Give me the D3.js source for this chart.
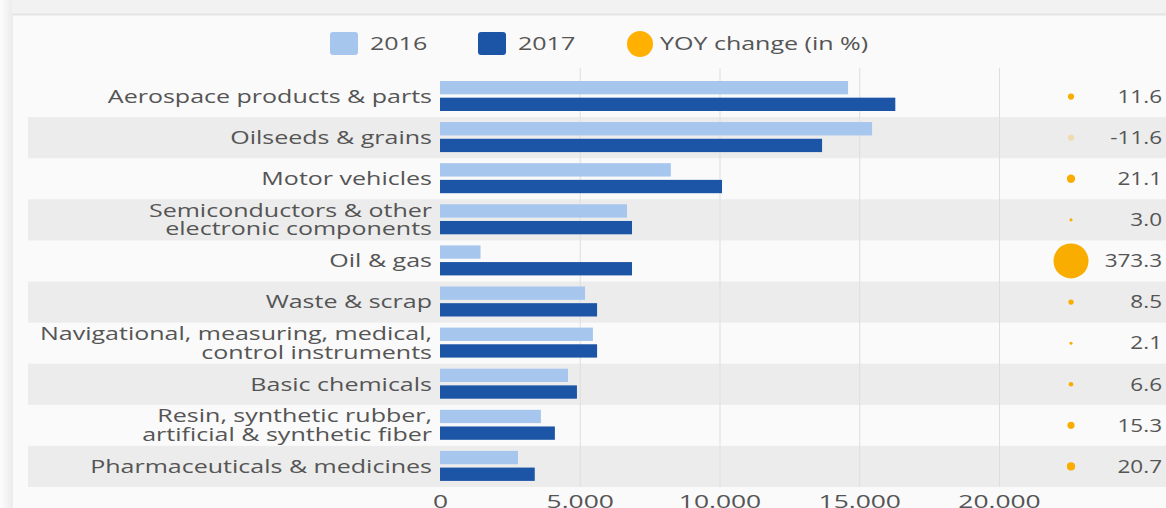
<!DOCTYPE html>
<html>
<head>
<meta charset="utf-8">
<script src="https://cdn.jsdelivr.net/npm/d3@7"></script>
<style>
  html, body { margin: 0; padding: 0; background: #f1f1f1; overflow: hidden; }
  text { font-family: "Open Sans", "Noto Sans", sans-serif; }
</style>
</head>
<body>
<script>
/* data (US$ million) */
var categories = [
    'Aerospace products & parts',
    'Oilseeds & grains',
    'Motor vehicles',
    'Semiconductors & other|electronic components',
    'Oil & gas',
    'Waste & scrap',
    'Navigational, measuring, medical,|control instruments',
    'Basic chemicals',
    'Resin, synthetic rubber,|artificial & synthetic fiber',
    'Pharmaceuticals & medicines'
]
var years = ['2016', '2017']
var values2016 = [14600, 15460, 8260, 6690, 1450, 5190, 5470, 4580, 3610, 2790]
var values2017 = [16290, 13670, 10090, 6870, 6870, 5620, 5620, 4900, 4110, 3390]
var yoyChange = [11.6, -11.6, 21.1, 3.0, 373.3, 8.5, 2.1, 6.6, 15.3, 20.7]
var xTicks = [0, 5000, 10000, 15000, 20000]

/* setup */
var width = 1166
var height = 508
var colors = { '2016': '#a6c6ee', '2017': '#1d55a6' }
var orange = '#f8ad00'
var textColor = '#555'
var fontSize = '18px'
// the reference text runs wide
var stretch = 'scale(1.39,1)'
var stretchNum = 'scale(1.25,1)'

var rows = categories.map(function(c, i) {
    return { name: c, '2016': values2016[i], '2017': values2017[i], yoy: yoyChange[i] }
})

var svg = d3.select('body').append('svg')
    .attr('width', width)
    .attr('height', height)

/* card */
var defs = svg.append('defs')
var grad = defs.append('linearGradient').attr('id', 'edge')
grad.append('stop').attr('offset', '0%').attr('stop-color', '#fdfdfd')
grad.append('stop').attr('offset', '100%').attr('stop-color', '#ececec')

svg.append('rect').attr('width', width).attr('height', height).attr('fill', '#f2f2f2')
svg.append('rect').attr('x', 0).attr('y', 0).attr('width', 12).attr('height', height).attr('fill', 'url(#edge)')
svg.append('rect').attr('x', 12).attr('y', 14).attr('width', width).attr('height', height)
    .attr('fill', '#fafafa')
svg.append('line').attr('x1', 12).attr('x2', width).attr('y1', 14.5).attr('y2', 14.5)
    .attr('stroke', '#e3e3e3').attr('stroke-width', 2)
svg.append('line').attr('x1', 12.5).attr('x2', 12.5).attr('y1', 14).attr('y2', height)
    .attr('stroke', '#ececec').attr('stroke-width', 1)

/* scales */
var x = d3.scaleLinear().domain([0, 20000]).range([440, 999])
var y = d3.scaleBand().domain(categories).range([76, 487]).padding(0)
var yInner = d3.scaleBand().domain(years).range([5, 35]).paddingInner(0.2)
var r = d3.scaleSqrt().domain([0, 373.3]).range([0, 17.5])

/* zebra bands */
svg.append('g').selectAll('rect')
    .data(rows.filter(function(d, i) { return i % 2 === 1 }))
    .enter().append('rect')
    .attr('x', 28)
    .attr('y', function(d) { return y(d.name) })
    .attr('width', width - 28)
    .attr('height', y.bandwidth())
    .attr('fill', '#ececec')

/* grid */
var xAxis = d3.axisBottom(x)
    .tickValues(xTicks)
    .tickSize(-(487 - 68))
    .tickFormat(function(d) { return d3.format(',')(d).replace(/,/g, '.') })

var gx = svg.append('g')
    .attr('transform', 'translate(0,487)')
    .call(xAxis)
gx.select('.domain').remove()
gx.selectAll('.tick line')
    .attr('stroke', function(d) { return d === 0 ? 'none' : '#dedede' })
gx.selectAll('.tick text')
    .attr('y', 8)
    .attr('dy', '0.71em')
    .attr('transform', stretch)
    .attr('fill', textColor)
    .style('font-size', '19px')

/* bars */
var gRow = svg.append('g').selectAll('g')
    .data(rows)
    .enter().append('g')
    .attr('transform', function(d) { return 'translate(0,' + y(d.name) + ')' })

gRow.selectAll('rect')
    .data(function(d) { return years.map(function(k) { return { key: k, value: d[k] } }) })
    .enter().append('rect')
    .attr('x', x(0))
    .attr('y', function(d) { return yInner(d.key) })
    .attr('width', function(d) { return x(d.value) - x(0) })
    .attr('height', yInner.bandwidth())
    .attr('fill', function(d) { return colors[d.key] })

/* category labels */
var label = gRow.append('g')
    .attr('transform', 'translate(432,' + (y.bandwidth() / 2) + ') ' + stretch)
    .append('text')
    .attr('text-anchor', 'end')
    .attr('fill', textColor)
    .style('font-size', fontSize)

label.each(function(d) {
    var lines = d.name.split('|')
    var t = d3.select(this)
    lines.forEach(function(line, i) {
        t.append('tspan')
            .attr('x', 0)
            .attr('y', (i - (lines.length - 1) / 2) * 18.5)
            .attr('dy', '0.35em')
            .text(line)
    })
})

/* YOY bubbles */
gRow.append('circle')
    .attr('cx', 1071)
    .attr('cy', y.bandwidth() / 2)
    .attr('r', function(d) { return Math.max(1.5, r(Math.abs(d.yoy))) })
    .attr('fill', orange)
    .attr('fill-opacity', function(d) { return d.yoy < 0 ? 0.25 : 1 })

gRow.append('g')
    .attr('transform', 'translate(1162,' + (y.bandwidth() / 2) + ') ' + stretchNum)
    .append('text')
    .attr('dy', '0.35em')
    .attr('text-anchor', 'end')
    .attr('fill', textColor)
    .style('font-size', fontSize)
    .text(function(d) { return d3.format('.1f')(d.yoy).replace('\u2212', '-') })

/* legend */
var legend = svg.append('g').attr('transform', 'translate(0,44)')
var legendItems = [
    { label: '2016', x: 330, type: 'rect', color: colors['2016'] },
    { label: '2017', x: 478, type: 'rect', color: colors['2017'] },
    { label: 'YOY change (in %)', x: 627, type: 'circle', color: '#ffb000' }
]
var li = legend.selectAll('g').data(legendItems).enter().append('g')
    .attr('transform', function(d) { return 'translate(' + d.x + ',0)' })
li.filter(function(d) { return d.type === 'rect' }).append('rect')
    .attr('x', 0).attr('y', -12).attr('width', 28).attr('height', 23).attr('rx', 3)
    .attr('fill', function(d) { return d.color })
li.filter(function(d) { return d.type === 'circle' }).append('circle')
    .attr('cx', 13).attr('cy', 0).attr('r', 13)
    .attr('fill', function(d) { return d.color })
li.append('g')
    .attr('transform', function(d) { return 'translate(' + (d.type === 'rect' ? 40 : 33) + ',0) ' + stretch })
    .append('text')
    .attr('dy', '0.35em')
    .attr('fill', textColor)
    .style('font-size', fontSize)
    .text(function(d) { return d.label })
</script>
</body>
</html>
